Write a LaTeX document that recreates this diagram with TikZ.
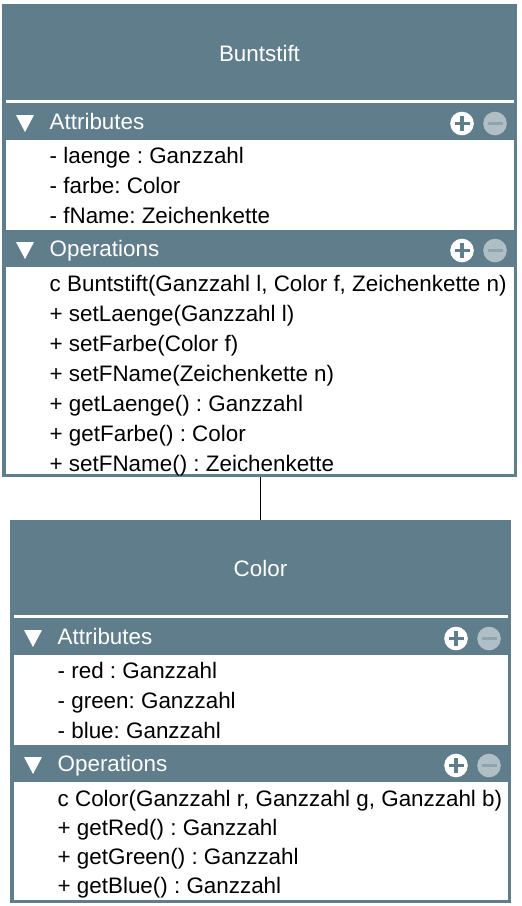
\documentclass[tikz,border=0pt]{standalone}
\usepackage{fontspec}
\setmainfont{Liberation Sans}
\frenchspacing
\definecolor{hdr}{HTML}{607D8B}
\definecolor{mfill}{HTML}{B0BEC5}
\definecolor{mbar}{HTML}{90A4AE}
\tikzset{
  fnt/.style={font=\fontsize{22.4}{26}\selectfont},
  txt/.style={fnt, anchor=base west, inner sep=0pt, text=black},
  ttl/.style={fnt, anchor=base, inner sep=0pt, text=white},
  bartxt/.style={fnt, anchor=base west, inner sep=0pt, text=white},
  frame/.style={fill=hdr, anchor=north west, inner sep=0pt, outer sep=0pt},
  link/.style={draw=black, line width=1.5pt},
}
% #1 x0, #2 x1, #3 bar top y, #4 label, #5 node name
\newcommand\umlbar[5]{%
  \fill[white] (#1+14,#3+12) -- (#1+32,#3+12) -- (#1+23,#3+29) -- cycle;
  \node[bartxt] (#5) at (#1+47.5,#3+26) {#4};
  \fill[white] (#2-55,#3+20.5) circle (11.8pt);
  \fill[hdr] (#2-55-7.5,#3+20.5-1.9) rectangle (#2-55+7.5,#3+20.5+1.9);
  \fill[hdr] (#2-55-1.9,#3+20.5-7.5) rectangle (#2-55+1.9,#3+20.5+7.5);
  \fill[mfill] (#2-22,#3+20.5) circle (11.8pt);
  \fill[mbar] (#2-22-7.5,#3+20.5-1.9) rectangle (#2-22+7.5,#3+20.5+1.9);
}
\begin{document}
\begin{tikzpicture}[x=1pt,y=-1pt]
\useasboundingbox (0,0) rectangle (522,906);

% ---------- Buntstift ----------
\node[frame, minimum width=515pt, minimum height=473pt] (buntstift) at (2,4) {};
\node[ttl] (bt) at (259.5,61) {Buntstift};
\fill[white] (5.5,100) rectangle (514,103);
\umlbar{2}{517}{103}{Attributes}{ba}
\fill[white] (5.5,140) rectangle (514,230);
\node[txt] (ba1) at (49.5,163) {- laenge : Ganzzahl};
\node[txt] (ba2) at (49.5,193) {- farbe: Color};
\node[txt] (ba3) at (49.5,223) {- fName: Zeichenkette};
\umlbar{2}{517}{230}{Operations}{bo}
\fill[white] (5.5,267) rectangle (514,473.5);
\node[txt] (bo1) at (49.5,291) {c Buntstift(Ganzzahl l, Color f, Zeichenkette n)};
\node[txt] (bo2) at (49.5,321) {+ setLaenge(Ganzzahl l)};
\node[txt] (bo3) at (49.5,351) {+ setFarbe(Color f)};
\node[txt] (bo4) at (49.5,381) {+ setFName(Zeichenkette n)};
\node[txt] (bo5) at (49.5,411) {+ getLaenge() : Ganzzahl};
\node[txt] (bo6) at (49.5,441) {+ getFarbe() : Color};
\node[txt] (bo7) at (49.5,471) {+ setFName() : Zeichenkette};

% ---------- Color ----------
\node[frame, minimum width=501pt, minimum height=383pt] (color) at (10,520) {};
\node[ttl] (ct) at (260.5,576) {Color};
\fill[white] (13.5,615) rectangle (508,618);
\umlbar{10}{511}{618}{Attributes}{ca}
\fill[white] (13.5,655) rectangle (508,745);
\node[txt] (ca1) at (57.5,678) {- red : Ganzzahl};
\node[txt] (ca2) at (57.5,708) {- green: Ganzzahl};
\node[txt] (ca3) at (57.5,738) {- blue: Ganzzahl};
\umlbar{10}{511}{745}{Operations}{co}
\fill[white] (13.5,782) rectangle (508,899.5);
\node[txt] (co1) at (57.5,806) {c Color(Ganzzahl r, Ganzzahl g, Ganzzahl b)};
\node[txt] (co2) at (57.5,835) {+ getRed() : Ganzzahl};
\node[txt] (co3) at (57.5,864) {+ getGreen() : Ganzzahl};
\node[txt] (co4) at (57.5,893) {+ getBlue() : Ganzzahl};

% ---------- connector ----------
\draw[link] (buntstift.south -| color.north) -- (color.north);
\end{tikzpicture}
\end{document}
